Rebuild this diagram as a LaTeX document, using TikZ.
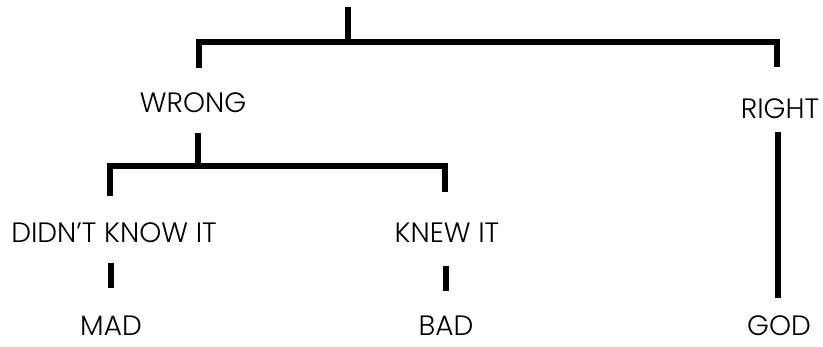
\documentclass[tikz,border=0pt]{standalone}
\usepackage{fontspec}
\setmainfont{Poppins}[UprightFont=* Light]
\tikzset{
    branch/.style={line width=5.5pt,line join=miter},
    word/.style={font=\fontsize{28}{32}\selectfont,inner sep=0pt,text depth=0pt,anchor=base},
    x=1pt,
    y=-1pt
}
\begin{document}
\begin{tikzpicture}
    \useasboundingbox (0,0) rectangle (823,347);
    % labels
    \node[word] (wrong) at (193,113) {WRONG};
    \node[word] (right) at (780,119) {RIGHT};
    \node[word] (didnt) at (114,243) {DIDN'T KNOW IT};
    \node[word] (knew)  at (447,243) {KNEW IT};
    \node[word] (mad)   at (111,336) {MAD};
    \node[word] (bad)   at (446,336) {BAD};
    \node[word] (god)   at (779,336) {GOD};
    % junctions
    \coordinate (root)   at (348,7);
    \coordinate (rootj)  at (348,42);
    \coordinate (topl)   at (199,42);
    \coordinate (topr)   at (777,42);
    \coordinate (wrongi) at (199,68);
    \coordinate (righti) at (777,67);
    \coordinate (wrongo) at (198,133);
    \coordinate (wrongj) at (198,166);
    \coordinate (midl)   at (110,166);
    \coordinate (midr)   at (445,166);
    \coordinate (didnti) at (110,196);
    \coordinate (knewi)  at (445,192);
    \coordinate (didnto) at (111,263);
    \coordinate (madi)   at (111,288);
    \coordinate (knewo)  at (446,266);
    \coordinate (badi)   at (446,291);
    \coordinate (righto) at (778,132);
    \coordinate (godi)   at (778,298);
    % connectors
    \draw[branch] (root) -- (rootj);
    \draw[branch] (wrongi) -- (topl) -- (topr) -- (righti);
    \draw[branch] (wrongo) -- (wrongj);
    \draw[branch] (didnti) -- (midl) -- (midr) -- (knewi);
    \draw[branch] (didnto) -- (madi);
    \draw[branch] (knewo) -- (badi);
    \draw[branch] (righto) -- (godi);
\end{tikzpicture}
\end{document}
